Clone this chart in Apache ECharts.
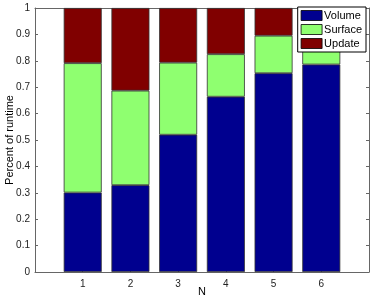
<!DOCTYPE html>
<html><head><meta charset="utf-8">
<script src="https://cdn.jsdelivr.net/npm/echarts@6/dist/echarts.min.js"></script>
<style>html,body{margin:0;padding:0;background:#fff}#c{width:374px;height:300px}</style>
</head><body><div id="c"></div>
<script>
const categories = ['1', '2', '3', '4', '5', '6'];
const volume  = [0.301, 0.329, 0.520, 0.664, 0.753, 0.786];
const surface = [0.490, 0.358, 0.273, 0.161, 0.142, 0.134];
const update  = [0.209, 0.313, 0.207, 0.175, 0.105, 0.080];
const seriesNames = ['Volume', 'Surface', 'Update'];
const colors = ['#00008f', '#8fff70', '#800000'];
const yTicks = [0, 0.1, 0.2, 0.3, 0.4, 0.5, 0.6, 0.7, 0.8, 0.9, 1];

// padded axis: an empty slot at each end (positions 0 and 7)
const axisCats = ['0'].concat(categories, ['7']);
const pad = vals => [null].concat(vals, [null]);

const font = 'Liberation Sans, Arial, sans-serif';
const chart = echarts.init(document.getElementById('c'), null, {renderer: 'canvas'});
const mk = (name, vals, i) => ({
  name, type: 'bar', stack: 'all', xAxisIndex: 0, yAxisIndex: 0,
  barWidth: 38,
  itemStyle: {color: colors[i], borderColor: '#333', borderWidth: 0.8},
  data: pad(vals)
});
const xCommon = {
  type: 'category', data: axisCats, boundaryGap: false,
  axisLine: {show: true, onZero: false, lineStyle: {color: '#666', width: 1}},
  axisTick: {show: true, inside: true, length: 3, lineStyle: {color: '#666'},
    interval: (i) => i > 0 && i < axisCats.length - 1},
  splitLine: {show: false}
};
chart.setOption({
  animation: false,
  grid: {left: 35, right: 5, top: 8, bottom: 28, containLabel: false, outerBoundsMode: 'none'},
  legend: {
    orient: 'vertical', right: 8, top: 7,
    data: seriesNames,
    backgroundColor: '#fff', borderColor: '#000', borderWidth: 1,
    padding: [3, 4, 3, 3], itemGap: 3, itemWidth: 21, itemHeight: 10,
    icon: 'rect',
    textStyle: {fontFamily: font, fontSize: 11, color: '#000', padding: [0, 0, 0, -3]},
    itemStyle: {borderColor: '#000', borderWidth: 0.8}
  },
  xAxis: [Object.assign({}, xCommon, {
    position: 'bottom',
    name: 'N', nameLocation: 'middle', nameGap: 14, nameMoveOverlap: false,
    nameTextStyle: {fontFamily: font, fontSize: 11, color: '#000'},
    axisLabel: {fontFamily: font, fontSize: 10, color: '#222', margin: 7, interval: 0,
      formatter: (v, i) => (i > 0 && i < axisCats.length - 1) ? v : ''}
  }), Object.assign({}, xCommon, {
    position: 'top', axisLabel: {show: false}
  })],
  yAxis: [{
    type: 'value', min: 0, max: 1, interval: 0.1, position: 'left',
    name: 'Percent of runtime', nameLocation: 'middle', nameGap: 20, nameMoveOverlap: false,
    nameTextStyle: {fontFamily: font, fontSize: 11, color: '#000'},
    axisLine: {show: true, lineStyle: {color: '#666', width: 1}},
    axisTick: {show: true, inside: true, length: 3, lineStyle: {color: '#666'}},
    axisLabel: {fontFamily: font, fontSize: 10, color: '#222', margin: 5,
      formatter: v => { const t = yTicks.find(x => Math.abs(x - v) < 1e-9); return t === undefined ? '' : String(t); }},
    splitLine: {show: false}
  }, {
    type: 'value', min: 0, max: 1, interval: 0.1, position: 'right',
    axisLine: {show: true, lineStyle: {color: '#666', width: 1}},
    axisTick: {show: true, inside: true, length: 3, lineStyle: {color: '#666'}},
    axisLabel: {show: false}, splitLine: {show: false}
  }],
  series: [mk('Volume', volume, 0), mk('Surface', surface, 1), mk('Update', update, 2)]
});
</script></body></html>
